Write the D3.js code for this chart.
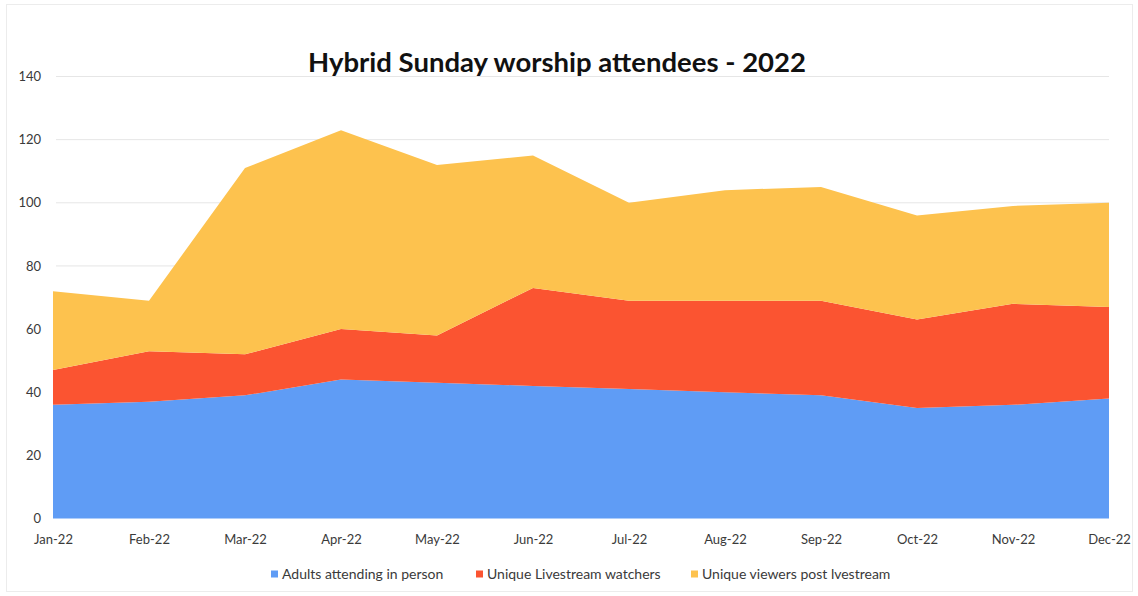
<!DOCTYPE html>
<html>
<head>
<meta charset="utf-8">
<script src="https://cdn.jsdelivr.net/npm/d3@7"></script>
<style>
  body { margin: 0; background: #fff; }
  text { font-family: Lato, "Open Sans", sans-serif; }
</style>
</head>
<body>
<div id="chart"></div>
<script>
// months on the x axis
const months = ['Jan-22', 'Feb-22', 'Mar-22', 'Apr-22', 'May-22', 'Jun-22',
  'Jul-22', 'Aug-22', 'Sep-22', 'Oct-22', 'Nov-22', 'Dec-22'];

// series values
const inPerson = [36, 37, 39, 44, 43, 42, 41, 40, 39, 35, 36, 38];
const livestream = [11, 16, 13, 16, 15, 31, 28, 29, 30, 28, 32, 29];
const postViewers = [25, 16, 59, 63, 54, 42, 31, 35, 36, 33, 31, 33];

const seriesNames = ['Adults attending in person', 'Unique Livestream watchers', 'Unique viewers post lvestream'];
const yTicks = [0, 20, 40, 60, 80, 100, 120, 140];

const colors = ['#5f9cf5', '#fb5431', '#fdc24e'];

const W = 1138, H = 596;
const margin = { top: 76.5, right: 29, bottom: 77.5, left: 53 };

const svg = d3.select('#chart').append('svg')
  .attr('width', W)
  .attr('height', H);

// faint frame of the scanned chart
svg.append('rect')
  .attr('x', 6.5).attr('y', 4.5)
  .attr('width', W - 12).attr('height', H - 9)
  .attr('fill', 'none')
  .attr('stroke', '#ececec');

const table = months.map((m, i) => ({
  month: m,
  a: inPerson[i],
  b: livestream[i],
  c: postViewers[i]
}));

const x = d3.scalePoint()
  .domain(months)
  .range([margin.left, W - margin.right]);

const y = d3.scaleLinear()
  .domain([0, 140])
  .range([H - margin.bottom, margin.top]);

// gridlines
svg.append('g')
  .selectAll('line')
  .data(yTicks.filter(d => d > 0))
  .enter()
  .append('line')
  .attr('x1', margin.left + 3)
  .attr('x2', W - margin.right)
  .attr('y1', d => y(d))
  .attr('y2', d => y(d))
  .attr('stroke', '#e6e6e6')
  .attr('stroke-width', 1);

const stack = d3.stack().keys(['a', 'b', 'c']);
const layers = stack(table);

const area = d3.area()
  .x(d => x(d.data.month))
  .y0(d => y(d[0]))
  .y1(d => y(d[1]));

svg.append('g')
  .selectAll('path')
  .data(layers)
  .enter()
  .append('path')
  .attr('d', area)
  .attr('fill', (d, i) => colors[i]);

// y axis
const yAxis = svg.append('g')
  .attr('transform', `translate(${margin.left - 12}, 0)`)
  .call(d3.axisLeft(y).tickValues(yTicks).tickSize(0).tickPadding(0));
yAxis.select('.domain').remove();
yAxis.selectAll('text')
  .style('font-size', '13px')
  .style('font-family', 'Lato, sans-serif')
  .attr('fill', '#3a3a3a');

// x axis
const xAxis = svg.append('g')
  .attr('transform', `translate(0, ${H - margin.bottom})`)
  .call(d3.axisBottom(x).tickSize(0).tickPadding(16));
xAxis.select('.domain').remove();
xAxis.selectAll('text')
  .style('font-size', '13px')
  .style('font-family', 'Lato, sans-serif')
  .attr('fill', '#3a3a3a');

// title
svg.append('text')
  .attr('x', 557)
  .attr('y', 72)
  .attr('text-anchor', 'middle')
  .style('font-size', '27.5px')
  .style('font-weight', 'bold')
  .attr('fill', '#111')
  .text('Hybrid Sunday worship attendees - 2022');

// legend
const legendX = [271, 476, 691];
const legend = svg.append('g')
  .selectAll('g')
  .data(seriesNames)
  .enter()
  .append('g')
  .attr('transform', (d, i) => `translate(${legendX[i]}, 574)`);
legend.append('rect')
  .attr('x', 0).attr('y', -3.5)
  .attr('width', 7).attr('height', 7)
  .attr('fill', (d, i) => colors[i]);
legend.append('text')
  .attr('x', 11)
  .attr('y', 5)
  .style('font-size', '14px')
  .attr('fill', '#3a3a3a')
  .text(d => d);
</script>
</body>
</html>
